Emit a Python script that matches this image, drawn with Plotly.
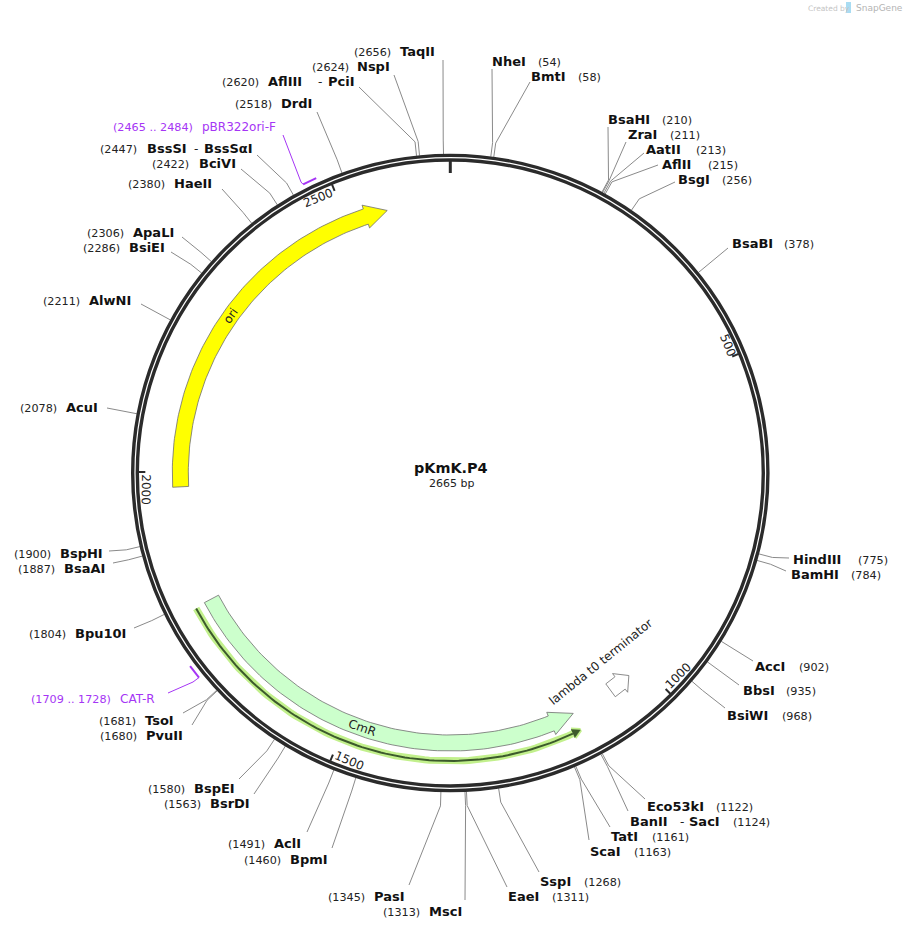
import numpy as np
import plotly.graph_objects as go

# plasmid
plasmid_name = "pKmK.P4"
plasmid_bp = 2665

# enzyme sites: label text and cut position
enzymes = ["TaqII", "NspI", "AflIII", "DrdI", "BssSI", "BciVI", "HaeII", "ApaLI", "BsiEI", "AlwNI",
           "AcuI", "BspHI", "BsaAI", "Bpu10I", "TsoI", "PvuII", "BspEI", "BsrDI", "AclI", "BpmI",
           "PasI", "MscI", "EaeI", "SspI", "ScaI", "TatI", "BanII", "Eco53kI", "BsiWI", "BbsI",
           "AccI", "BamHI", "HindIII", "BsaBI", "BsgI", "AflII", "AatII", "ZraI", "BsaHI", "BmtI",
           "NheI"]
sites = [2656, 2624, 2620, 2518, 2447, 2422, 2380, 2306, 2286, 2211,
         2078, 1900, 1887, 1804, 1681, 1680, 1580, 1563, 1491, 1460,
         1345, 1313, 1311, 1268, 1163, 1161, 1124, 1122, 968, 935,
         902, 784, 775, 378, 256, 215, 213, 211, 210, 58,
         54]

# label placement, same order as enzymes
name_x = [400, 357, 268, 281, 147, 199, 174, 133, 129, 89,
          66, 60, 64, 75, 145, 146, 194, 210, 274, 290,
          374, 429, 508, 540, 590, 611, 630, 647, 727, 743,
          755, 791, 793, 732, 678, 662, 646, 628, 608, 531,
          492]
pos_x = [354, 312, 222, 235, 100, 152, 128, 87, 83, 43,
         20, 14, 18, 29, 99, 100, 148, 164, 228, 244,
         328, 383, 552, 584, 634, 652, 733, 716, 782, 786,
         799, 851, 858, 784, 722, 708, 696, 670, 662, 578,
         538]
label_y = [53, 68, 83, 105, 150, 165, 185, 234, 249, 302,
           409, 555, 570, 635, 722, 737, 790, 805, 845, 861,
           898, 913, 898, 883, 853, 838, 823, 808, 717, 692,
           668, 576, 561, 245, 181, 166, 151, 136, 121, 78,
           63]
leader_x = [443, 394, 359, 317, 257, 241, 222, 182, 171, 141,
            107, 109, 113, 134, 183, 192, 239, 254, 307, 332,
            409, 465, 507, 539, 589, 610, 628, 645, 725, 739,
            753, 786, 789, 728, 675, 658, 644, 626, 608, 530,
            492]
leader_y = [60, 75, 87, 112, 155, 169, 189, 237, 252, 304,
            408, 551, 563, 628, 713, 725, 779, 794, 832, 848,
            885, 900, 887, 872, 840, 827, 811, 799, 708, 685,
            661, 571, 558, 248, 182, 165, 153, 142, 127, 82,
            69]

# second enzyme on a shared label
shared_names = ["PciI", "BssSαI", "SacI"]
shared_x = [328, 204, 689]
shared_y = [83, 150, 823]
dash_x = [318, 194, 680]

# primers
primers = ["pBR322ori-F", "CAT-R"]
primer_start = [2465, 1709]
primer_end = [2484, 1728]
primer_name_x = [202, 120]
primer_pos_x = [113, 31]
primer_label_y = [128, 700]
primer_elbow_x = [301, 193]
primer_elbow_y = [182, 682]
primer_end_x = [283, 168]
primer_end_y = [135, 693]

# features
ori_start, ori_neck, ori_tip = 1977, 2530, 2565
cmr_start, cmr_neck, cmr_tip = 1793, 1170, 1132
term_start, term_neck, term_tip = 1063, 1044, 1026
orf_start, orf_neck, orf_tip = 1791, 1146, 1134

ticks = [500, 1000, 1500, 2000, 2500]

CX, CY = 450.3, 473
PURPLE = "#a535f5"
DARK = "#2b2b2b"
FONT = "DejaVu Sans"


def polar(bp, r):
    a = 2 * np.pi * np.asarray(bp, dtype=float) / plasmid_bp
    return CX + r * np.sin(a), CY - r * np.cos(a)


def arc(b0, b1, r):
    return polar(np.linspace(b0, b1, 90), r)


def arrow(start, neck, tip, r_in=262, r_out=278, head_in=258, head_out=282):
    r_mid = (r_in + r_out) / 2
    x1, y1 = arc(start, neck, r_out)
    x2, y2 = polar([neck, tip, neck], [head_out, r_mid, head_in])
    x3, y3 = arc(neck, start, r_in)
    return np.r_[x1, x2, x3, x1[0]], np.r_[y1, y2, y3, y1[0]]


def rotation(bp):
    deg = 360 * bp / plasmid_bp
    return deg if deg <= 90 else deg - 180 if deg <= 270.5 else deg - 360


fig = go.Figure()

# backbone
for r in (317.6, 313):
    fig.add_shape(type="circle", x0=CX - r, x1=CX + r, y0=CY - r, y1=CY + r,
                  line=dict(color=DARK, width=3.4))

# leader lines from the ring to the labels
lx, ly = [], []
for s, ex, ey in zip(sites, leader_x, leader_y):
    x0, y0 = polar(s, 319)
    x1, y1 = polar(s, 333)
    lx += [x0, x1, ex, None]
    ly += [y0, y1, ey, None]
fig.add_trace(go.Scatter(x=lx, y=ly, mode="lines", line=dict(color="#8a8a8a", width=1)))

# features
for pts, color in [(arrow(ori_start, ori_neck, ori_tip), "#ffff00"),
                   (arrow(cmr_start, cmr_neck, cmr_tip), "#ccffcc"),
                   (arrow(term_start, term_neck, term_tip), "#ffffff")]:
    fig.add_trace(go.Scatter(x=pts[0], y=pts[1], mode="lines", fill="toself", fillcolor=color,
                             line=dict(color="#6e6e6e", width=0.8)))

# translated orf under CmR
ox, oy = arc(orf_start, orf_neck, 288)
hx, hy = polar([orf_neck, orf_tip, orf_neck], [292.5, 288, 283.5])
fig.add_trace(go.Scatter(x=hx, y=hy, mode="lines", fill="toself", fillcolor="#c2f08c",
                         line=dict(color="#c2f08c", width=4)))
fig.add_trace(go.Scatter(x=ox, y=oy, mode="lines", line=dict(color="#c2f08c", width=7)))
fig.add_trace(go.Scatter(x=ox, y=oy, mode="lines", line=dict(color="#3c5a2c", width=2)))
fig.add_trace(go.Scatter(x=hx, y=hy, mode="lines", fill="toself", fillcolor="#3c5a2c",
                         line=dict(color="#3c5a2c", width=0.5)))

# primers
for i in range(len(primers)):
    px, py = arc(primer_start[i], primer_end[i], 324)
    fig.add_trace(go.Scatter(x=px, y=py, mode="lines", line=dict(color=PURPLE, width=2)))
    fig.add_trace(go.Scatter(x=[px[0], primer_elbow_x[i], primer_end_x[i]],
                             y=[py[0], primer_elbow_y[i], primer_end_y[i]],
                             mode="lines", line=dict(color=PURPLE, width=1)))

# ticks
tx, ty = [], []
for t in ticks:
    x0, y0 = polar(t, 312)
    x1, y1 = polar(t, 305)
    tx += [x0, x1, None]
    ty += [y0, y1, None]
fig.add_trace(go.Scatter(x=tx, y=ty, mode="lines", line=dict(color=DARK, width=2)))
zx, zy = polar([0, 0], [312, 300])
fig.add_trace(go.Scatter(x=zx, y=zy, mode="lines", line=dict(color=DARK, width=3)))

# enzyme labels
fig.add_trace(go.Scatter(x=name_x + shared_x, y=label_y + shared_y, text=enzymes + shared_names,
                         mode="text", textposition="middle right",
                         textfont=dict(family=FONT, size=13, color="#111111", weight="bold")))
fig.add_trace(go.Scatter(x=pos_x, y=label_y, text=[f"({s})" for s in sites],
                         mode="text", textposition="middle right",
                         textfont=dict(family=FONT, size=11.2, color="#222222")))
fig.add_trace(go.Scatter(x=dash_x, y=shared_y, text=["-"] * len(dash_x),
                         mode="text", textposition="middle right",
                         textfont=dict(family=FONT, size=12, color="#222222")))

# primer labels
fig.add_trace(go.Scatter(x=primer_name_x, y=primer_label_y, text=primers,
                         mode="text", textposition="middle right",
                         textfont=dict(family=FONT, size=12, color=PURPLE)))
fig.add_trace(go.Scatter(x=primer_pos_x, y=primer_label_y,
                         text=[f"({a} .. {b})" for a, b in zip(primer_start, primer_end)],
                         mode="text", textposition="middle right",
                         textfont=dict(family=FONT, size=11.2, color=PURPLE)))


def rot_text(text, x, y, angle, size=12):
    fig.add_annotation(text=text, x=x, y=y, textangle=angle, showarrow=False,
                       xanchor="center", yanchor="middle",
                       font=dict(family=FONT, size=size, color="#222222"))


# tick numbers end at their tick, so the shift depends on the digit count
for t in ticks:
    shift = (6 * len(str(t)) - 6) / 305 * plasmid_bp / (2 * np.pi)
    x, y = polar(t - shift, 305)
    rot_text(str(t), float(x), float(y), rotation(t))

# feature labels
for text, bp in [("ori", 2262), ("CmR", 1473)]:
    x, y = polar(bp, 270)
    rot_text(text, float(x), float(y), rotation(bp))
rot_text("lambda t0 terminator", 600.5, 661.5, -39)

# centre
fig.add_annotation(text=f"<b>{plasmid_name}</b>", x=451, y=468, showarrow=False,
                   font=dict(family=FONT, size=14.4, color="#111111"))
fig.add_annotation(text=f"{plasmid_bp} bp", x=451, y=483, showarrow=False,
                   font=dict(family=FONT, size=11, color="#222222"))

# watermark
fig.add_annotation(text="Created by", x=806, y=8, xanchor="left", showarrow=False,
                   font=dict(family=FONT, size=7.5, color="#c4c4c4"))
fig.add_annotation(text="SnapGene", x=854, y=8, xanchor="left", showarrow=False,
                   font=dict(family=FONT, size=9, color="#b4b4b4"))
fig.add_shape(type="rect", x0=846, x1=851, y0=2, y1=13, fillcolor="#a9dcf2", line_width=0)

fig.update_xaxes(range=[0, 903], visible=False, fixedrange=True)
fig.update_yaxes(range=[930, 0], visible=False, fixedrange=True)
fig.update_traces(hoverinfo="skip", cliponaxis=False)
fig.update_layout(width=903, height=930, margin=dict(l=0, r=0, t=0, b=0), showlegend=False,
                  paper_bgcolor="white", plot_bgcolor="white")

# drop the page's default body margin so the figure fills the window
fig.write_html("out.html", config={"displayModeBar": False},
               post_script="document.body.style.margin = '0';")
